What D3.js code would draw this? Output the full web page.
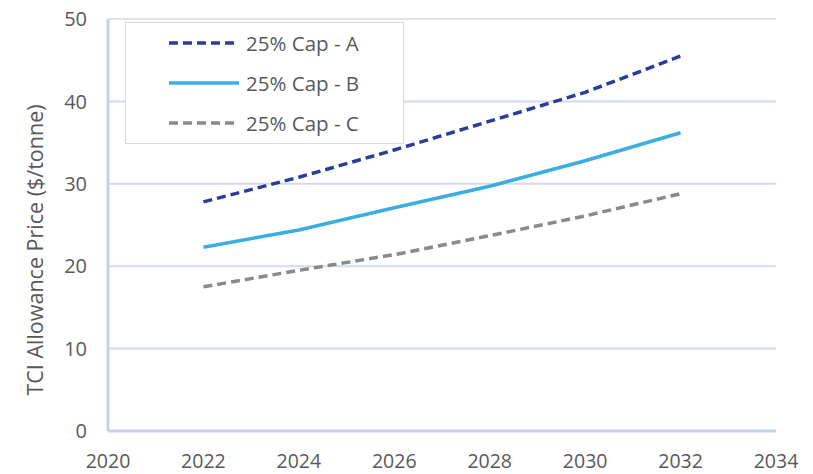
<!DOCTYPE html>
<html><head><meta charset="utf-8">
<script src="https://cdn.jsdelivr.net/npm/d3@7"></script>
<style>body{margin:0;background:#fff;} text{font-family:"Open Sans",sans-serif;fill:#595959;}</style>
</head><body><svg id="c" width="813" height="474"></svg>
<script>
const years = [2022, 2024, 2026, 2028, 2030, 2032];
const capA = [27.8, 30.8, 34.1, 37.6, 41.1, 45.5];
const capB = [22.3, 24.4, 27.1, 29.7, 32.8, 36.2];
const capC = [17.5, 19.5, 21.4, 23.7, 26.1, 28.8];
const seriesNames = ["25% Cap - A", "25% Cap - B", "25% Cap - C"];
const xTicks = [2020, 2022, 2024, 2026, 2028, 2030, 2032, 2034];
const yTicks = [0, 10, 20, 30, 40, 50];
const yTitle = "TCI Allowance Price ($/tonne)";

const svg = d3.select("#c");
const x = d3.scaleLinear().domain([2020, 2034]).range([108, 776]);
const y = d3.scaleLinear().domain([0, 50]).range([431, 19]);

// gridlines
svg.append("g").selectAll("line").data(yTicks.filter(d => d > 0)).join("line")
  .attr("x1", x(2020)).attr("x2", x(2034)).attr("y1", d => y(d)).attr("y2", d => y(d))
  .attr("stroke", d => d === 50 ? "#e3e3e3" : "#d3daf2").attr("stroke-width", 2);
// axes lines
svg.append("line").attr("x1", x(2020)).attr("x2", x(2020)).attr("y1", y(50)).attr("y2", y(0))
  .attr("stroke", "#c5cff0").attr("stroke-width", 3);
svg.append("line").attr("x1", x(2020)).attr("x2", x(2034)).attr("y1", y(0)).attr("y2", y(0))
  .attr("stroke", "#c5cff0").attr("stroke-width", 3);

// tick labels
svg.append("g").selectAll("text").data(yTicks).join("text")
  .attr("x", 87).attr("y", d => y(d)).attr("dy", "0.36em").attr("text-anchor", "end")
  .attr("font-size", 20).text(d => d);
svg.append("g").selectAll("text").data(xTicks).join("text")
  .attr("x", d => x(d)).attr("y", 468).attr("text-anchor", "middle")
  .attr("font-size", 19.5).text(d => d);

svg.append("text").attr("transform", `translate(43,250) rotate(-90)`)
  .attr("text-anchor", "middle").attr("font-size", 21.5).text(yTitle);

const series = [
  {name: seriesNames[0], vals: capA, color: "#2b3d98", dash: "9,5"},
  {name: seriesNames[1], vals: capB, color: "#3aaee0", dash: null},
  {name: seriesNames[2], vals: capC, color: "#8a8a8a", dash: "9,5"}
];
const line = d3.line().x((d, i) => x(years[i])).y(d => y(d));

// legend
const lg = svg.append("g");
lg.append("rect").attr("x", 125.5).attr("y", 22.5).attr("width", 278).attr("height", 121)
  .attr("fill", "#fff").attr("stroke", "#d9d9d9");
series.forEach((s, i) => {
  const ly = 43 + i * 40;
  lg.append("line").attr("x1", 169).attr("x2", 239).attr("y1", ly).attr("y2", ly)
    .attr("stroke", s.color).attr("stroke-width", 3.5).attr("stroke-dasharray", s.dash);
  lg.append("text").attr("x", 246).attr("y", ly + 1).attr("dy", "0.36em").attr("font-size", 20.5).text(s.name);
});

svg.append("g").selectAll("path").data(series).join("path")
  .attr("d", s => line(s.vals)).attr("fill", "none")
  .attr("stroke", s => s.color).attr("stroke-width", 3.5)
  .attr("stroke-dasharray", s => s.dash);
</script></body></html>
